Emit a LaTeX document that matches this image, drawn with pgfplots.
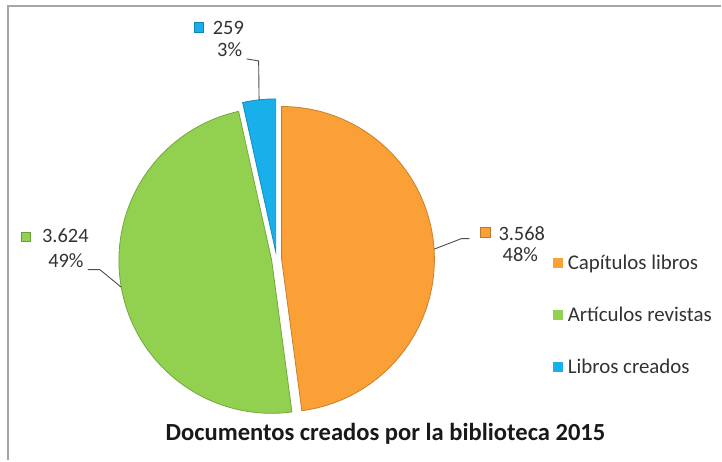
\documentclass[border=0pt]{standalone}
\usepackage{pgfplots}
\pgfplotsset{compat=1.18}
\usepackage{pgfplotstable}
\usepackage{fontspec}
\setmainfont{Carlito}

\definecolor{capcol}{RGB}{250,160,55}
\definecolor{artcol}{RGB}{146,208,80}
\definecolor{libcol}{RGB}{25,175,235}
\definecolor{framegray}{RGB}{165,165,165}
\definecolor{labelgray}{RGB}{50,50,50}

% documentos creados por la biblioteca, 2015
\pgfplotstableread{
tipo value
Cap  3568
Art  3624
Lib  259
}\docs

\newcommand{\labfont}{\fontsize{20.5}{24}\selectfont}
\tikzset{lab/.style={inner sep=0, font=\labfont, text=labelgray, text height=13bp, text depth=0bp}}

\begin{document}
\begin{tikzpicture}
\pgfplotstablegetelem{0}{value}\of\docs \let\vA\pgfplotsretval
\pgfplotstablegetelem{1}{value}\of\docs \let\vB\pgfplotsretval
\pgfplotstablegetelem{2}{value}\of\docs \let\vC\pgfplotsretval
\pgfmathsetmacro\tot{\vA+\vB+\vC}
% shares, then slice angles clockwise from 12 o'clock
\pgfmathsetmacro\fA{\vA/\tot}
\pgfmathsetmacro\fB{\vB/\tot}
\pgfmathsetmacro\fC{\vC/\tot}
\pgfmathsetmacro\aA{90}
\pgfmathsetmacro\aB{\aA-360*\fA}
\pgfmathsetmacro\aC{\aB-360*\fB}
\pgfmathsetmacro\aD{\aC-360*\fC}
\pgfmathsetmacro\mA{(\aA+\aB)/2}
\pgfmathsetmacro\mB{(\aB+\aC)/2}
\pgfmathsetmacro\mC{(\aC+\aD)/2}
\pgfmathtruncatemacro\pA{round(100*\fA)}
\pgfmathtruncatemacro\pB{round(100*\fB)}
\pgfmathtruncatemacro\pC{round(100*\fC)}
\def\R{153bp}
\def\ctr{axis cs:277,201}

\begin{axis}[
    scale only axis,
    width=722bp, height=461bp,
    xmin=0, xmax=722, ymin=0, ymax=461,
    hide axis, clip=false,
    legend style={at={(axis cs:551,210)}, anchor=north west,
        draw=none, fill=none, font=\fontsize{21}{24}\selectfont, text=labelgray,
        row sep=32bp, cells={anchor=west}},
    legend image code/.code={\fill[#1] (0bp,-4.5bp) rectangle (9bp,4.5bp); \path (12bp,0);},
]
\path (axis cs:0,0) rectangle (axis cs:722,461);

% frame (only top and left visible)
\draw[framegray, line width=2bp] (axis cs:8,0) -- (axis cs:8,455) -- (axis cs:722,455);

% slices
\fill[capcol, draw=capcol!80!black, line width=0.8bp, shift={(\mA:5bp)}]
    (\ctr) -- ++(\aA:\R) arc[start angle=\aA, end angle=\aB, radius=\R] -- cycle;
\fill[artcol, draw=artcol!80!black, line width=0.8bp, shift={(\mB:5bp)}]
    (\ctr) -- ++(\aB:\R) arc[start angle=\aB, end angle=\aC, radius=\R] -- cycle;
\fill[libcol, draw=libcol!80!black, line width=0.8bp, shift={(\mC:8bp)}]
    (\ctr) -- ++(\aC:\R) arc[start angle=\aC, end angle=\aD, radius=\R] -- cycle;

% leader lines
\draw[gray!60!black, line width=0.9bp] (\ctr) ++(\mA:158bp) -- (axis cs:462,222) -- (axis cs:470,222);
\draw[gray!60!black, line width=0.9bp] (\ctr) ++(\mB:158bp) -- (axis cs:100,191) -- (axis cs:88,191);
\draw[gray!60!black, line width=0.9bp] (\ctr) ++(\mC:161bp) -- (axis cs:259,400) -- (axis cs:247,402);

% data labels
\fill[capcol, draw=capcol!75!black] (axis cs:481,223) rectangle (axis cs:491,233);
\node[lab, anchor=base west] at (axis cs:499,220.5)
    {\pgfmathprintnumber[1000 sep={.}, assume math mode=true]{\vA}};
\node[lab, anchor=base] at (axis cs:521,199) {\pA\%};

\fill[artcol, draw=artcol!75!black] (axis cs:21,219) rectangle (axis cs:30,228);
\node[lab, anchor=base west] at (axis cs:42,218)
    {\pgfmathprintnumber[1000 sep={.}, assume math mode=true]{\vB}};
\node[lab, anchor=base] at (axis cs:66,193.5) {\pB\%};

\fill[libcol, draw=libcol!75!black] (axis cs:194,429) rectangle (axis cs:203,439);
\node[lab, anchor=base west] at (axis cs:213,426)
    {\pgfmathprintnumber[1000 sep={.}, assume math mode=true]{\vC}};
\node[lab, anchor=base] at (axis cs:230,404) {\pC\%};

% title
\node[anchor=base, inner sep=0, font=\fontsize{24.7}{28}\selectfont\bfseries, text=black!90]
    at (axis cs:386,19.5) {Documentos creados por la biblioteca 2015};

\addlegendimage{capcol}
\addlegendentry{Capítulos libros}
\addlegendimage{artcol}
\addlegendentry{Artículos revistas}
\addlegendimage{libcol}
\addlegendentry{Libros creados}
\end{axis}
\end{tikzpicture}
\end{document}
